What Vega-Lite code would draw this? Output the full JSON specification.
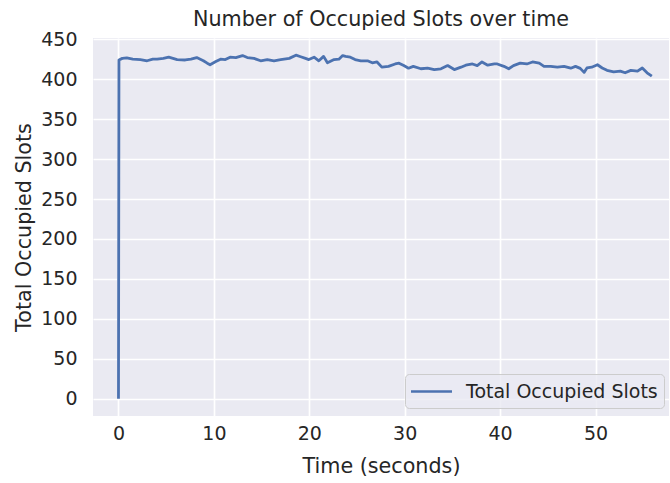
{
  "$schema": "https://vega.github.io/schema/vega-lite/v6.json",
  "width": 576,
  "height": 378,
  "autosize": {"type": "none"},
  "padding": {"left": 93, "top": 38, "right": 1, "bottom": 67},
  "background": "white",
  "config": {
    "font": "DejaVu Sans",
    "view": {"fill": "#EAEAF2", "stroke": null},
    "axis": {
      "domain": false,
      "ticks": false,
      "grid": true,
      "gridColor": "white",
      "gridWidth": 1.7,
      "labelFont": "DejaVu Sans",
      "labelFontSize": 19,
      "labelColor": "#262626",
      "titleFont": "DejaVu Sans",
      "titleFontSize": 20.7,
      "titleFontWeight": "normal",
      "titleColor": "#262626"
    }
  },
  "title": {
    "text": "Number of Occupied Slots over time",
    "font": "DejaVu Sans",
    "fontSize": 20.7,
    "fontWeight": "normal",
    "color": "#262626",
    "anchor": "middle",
    "offset": -1
  },
  "data": {
    "values": [
      {"t": 0, "v": 0},
      {"t": 0.05, "v": 424},
      {"t": 0.4, "v": 426},
      {"t": 0.87, "v": 426.5},
      {"t": 1.5, "v": 425},
      {"t": 2.3, "v": 424.5},
      {"t": 3.0, "v": 423},
      {"t": 3.6, "v": 425},
      {"t": 4.05, "v": 425},
      {"t": 4.7, "v": 426},
      {"t": 5.27, "v": 427.5},
      {"t": 6.15, "v": 424.5},
      {"t": 7.0, "v": 424},
      {"t": 7.6, "v": 425},
      {"t": 8.2, "v": 427},
      {"t": 8.9, "v": 423},
      {"t": 9.3, "v": 420},
      {"t": 9.6, "v": 418},
      {"t": 10.2, "v": 422},
      {"t": 10.7, "v": 425},
      {"t": 11.2, "v": 424.5},
      {"t": 11.7, "v": 427.5},
      {"t": 12.3, "v": 427},
      {"t": 13.0, "v": 429.5},
      {"t": 13.5, "v": 427},
      {"t": 14.2, "v": 426},
      {"t": 14.9, "v": 423},
      {"t": 15.6, "v": 424.5},
      {"t": 16.3, "v": 423},
      {"t": 17.0, "v": 424.5},
      {"t": 17.9, "v": 426},
      {"t": 18.6, "v": 430},
      {"t": 19.1, "v": 428},
      {"t": 19.6, "v": 426},
      {"t": 19.95, "v": 424.5},
      {"t": 20.5, "v": 427.5},
      {"t": 21.0, "v": 423},
      {"t": 21.5, "v": 428.5},
      {"t": 21.9, "v": 420.5},
      {"t": 22.6, "v": 424.5},
      {"t": 23.1, "v": 425},
      {"t": 23.5, "v": 429.5},
      {"t": 23.8, "v": 428.5},
      {"t": 24.3, "v": 427.5},
      {"t": 24.8, "v": 424.5},
      {"t": 25.4, "v": 423},
      {"t": 26.1, "v": 423},
      {"t": 26.6, "v": 420.5},
      {"t": 27.1, "v": 421.5},
      {"t": 27.6, "v": 415},
      {"t": 28.3, "v": 416},
      {"t": 29.0, "v": 419},
      {"t": 29.4, "v": 420},
      {"t": 29.9, "v": 417},
      {"t": 30.4, "v": 413.7},
      {"t": 30.9, "v": 416},
      {"t": 31.7, "v": 413},
      {"t": 32.4, "v": 413.7},
      {"t": 33.1, "v": 412},
      {"t": 33.8, "v": 413},
      {"t": 34.5, "v": 417},
      {"t": 35.2, "v": 412},
      {"t": 35.9, "v": 415},
      {"t": 36.4, "v": 417.5},
      {"t": 37.1, "v": 419},
      {"t": 37.6, "v": 417},
      {"t": 38.1, "v": 421.5},
      {"t": 38.7, "v": 417.5},
      {"t": 39.4, "v": 419},
      {"t": 39.7, "v": 419},
      {"t": 40.4, "v": 416},
      {"t": 40.9, "v": 413},
      {"t": 41.4, "v": 417},
      {"t": 42.1, "v": 420},
      {"t": 42.8, "v": 419},
      {"t": 43.4, "v": 421.5},
      {"t": 44.1, "v": 420},
      {"t": 44.6, "v": 416},
      {"t": 45.3, "v": 416},
      {"t": 46.0, "v": 415},
      {"t": 46.7, "v": 416},
      {"t": 47.4, "v": 413.7},
      {"t": 47.9, "v": 416},
      {"t": 48.4, "v": 413.5},
      {"t": 48.8, "v": 408.5},
      {"t": 49.1, "v": 414},
      {"t": 49.6, "v": 415},
      {"t": 50.2, "v": 418},
      {"t": 50.7, "v": 414},
      {"t": 51.2, "v": 411},
      {"t": 51.9, "v": 409},
      {"t": 52.6, "v": 410},
      {"t": 53.1, "v": 408},
      {"t": 53.7, "v": 411},
      {"t": 54.4, "v": 410},
      {"t": 54.9, "v": 414},
      {"t": 55.4, "v": 408},
      {"t": 55.9, "v": 403.7}
    ]
  },
  "mark": {"type": "line", "strokeWidth": 2.8, "strokeJoin": "round", "strokeCap": "butt"},
  "encoding": {
    "x": {
      "field": "t",
      "type": "quantitative",
      "scale": {"domain": [-2.67, 57.7], "nice": false, "zero": false},
      "axis": {"values": [0, 10, 20, 30, 40, 50], "title": "Time (seconds)", "labelPadding": 8, "titlePadding": 13}
    },
    "y": {
      "field": "v",
      "type": "quantitative",
      "scale": {"domain": [-21.5, 451.5], "nice": false, "zero": false},
      "axis": {"values": [0, 50, 100, 150, 200, 250, 300, 350, 400, 450], "title": "Total Occupied Slots", "labelPadding": 16, "titlePadding": 6}
    },
    "color": {
      "datum": "Total Occupied Slots",
      "type": "nominal",
      "scale": {"range": ["#4C72B0"]},
      "legend": {
        "title": null,
        "orient": "none",
        "legendX": 312,
        "legendY": 336,
        "symbolType": "M-2,0H2",
        "symbolSize": 420,
        "symbolStrokeWidth": 2.5,
        "symbolOffset": 9,
        "labelFont": "DejaVu Sans",
        "labelFontSize": 19,
        "labelColor": "#262626",
        "labelOffset": 23,
        "labelLimit": 400,
        "fillColor": "rgba(234,234,242,0.8)",
        "strokeColor": "#CCCCCC",
        "cornerRadius": 4,
        "padding": 6
      }
    }
  }
}
